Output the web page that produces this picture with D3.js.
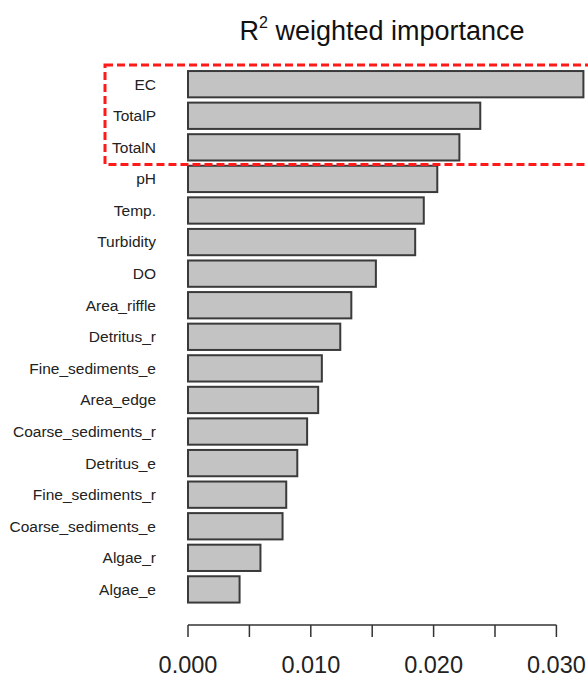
<!DOCTYPE html>
<html>
<head>
<meta charset="utf-8">
<script src="https://cdn.jsdelivr.net/npm/d3@7"></script>
<style>
  html, body { margin: 0; padding: 0; background: #fff; }
  svg { display: block; font-family: "Liberation Sans", Arial, sans-serif; }
</style>
</head>
<body>
<svg id="chart" width="588" height="682"></svg>
<script>
// Predictor names, top to bottom
const variables = [
  "EC", "TotalP", "TotalN", "pH", "Temp.", "Turbidity", "DO",
  "Area_riffle", "Detritus_r", "Fine_sediments_e", "Area_edge",
  "Coarse_sediments_r", "Detritus_e", "Fine_sediments_r",
  "Coarse_sediments_e", "Algae_r", "Algae_e"
];
// R² weighted importance of each predictor
const importance = [
  0.0322, 0.0238, 0.0221, 0.0203, 0.0192, 0.0185, 0.0153,
  0.0133, 0.0124, 0.0109, 0.0106,
  0.0097, 0.0089, 0.0080,
  0.0077, 0.0059, 0.0042
];
// Axis ticks and the subset that carries labels
const tickValues = [0, 0.005, 0.010, 0.015, 0.020, 0.025, 0.030];
const labelledTicks = [0, 0.010, 0.020, 0.030];
// Variables framed as the most important group
const highlighted = ["EC", "TotalP", "TotalN"];

const data = variables.map((v, i) => ({ name: v, value: importance[i] }));

const svg = d3.select("#chart");

const x = d3.scaleLinear().domain([0, 0.03]).range([188, 556.4]);
const y = d3.scaleBand()
  .domain(variables)
  .range([68.4, 605.2])
  .paddingInner(0.167)
  .paddingOuter(0.0835);

// Title with superscript
const title = svg.append("text")
  .attr("x", 382)
  .attr("y", 40)
  .attr("text-anchor", "middle")
  .attr("font-size", 27)
  .attr("fill", "#111");
title.append("tspan").text("R");
title.append("tspan").attr("dy", -12).attr("font-size", 16).text("2");
title.append("tspan").attr("dy", 12).text(" weighted importance");

// Bars
svg.append("g")
  .selectAll("rect")
  .data(data)
  .join("rect")
  .attr("x", x(0))
  .attr("y", d => y(d.name))
  .attr("width", d => x(d.value) - x(0))
  .attr("height", y.bandwidth())
  .attr("fill", "#c3c3c3")
  .attr("stroke", "#3a3a3a")
  .attr("stroke-width", 2);

// Category labels
svg.append("g")
  .selectAll("text")
  .data(data)
  .join("text")
  .attr("x", 156)
  .attr("y", d => y(d.name) + y.bandwidth() / 2)
  .attr("dy", "0.35em")
  .attr("text-anchor", "end")
  .attr("font-size", 15.5)
  .attr("fill", "#222")
  .text(d => d.name);

// Dashed frame around the top group
const frameTop = y(highlighted[0]) - 6;
const frameBottom = y(highlighted[highlighted.length - 1]) + y.bandwidth() + 4;
svg.append("rect")
  .attr("x", 105)
  .attr("y", frameTop)
  .attr("width", 520)
  .attr("height", frameBottom - frameTop)
  .attr("fill", "none")
  .attr("stroke", "#ff1a1a")
  .attr("stroke-width", 3)
  .attr("stroke-dasharray", "8,4");

// Bottom axis
const axisY = 625;
const axis = svg.append("g").attr("transform", `translate(0,${axisY})`);
axis.append("line")
  .attr("x1", x(0)).attr("x2", x(0.03))
  .attr("stroke", "#333").attr("stroke-width", 1.5);
axis.selectAll("line.tick")
  .data(tickValues)
  .join("line")
  .attr("class", "tick")
  .attr("x1", d => x(d)).attr("x2", d => x(d))
  .attr("y1", 0).attr("y2", 12)
  .attr("stroke", "#333").attr("stroke-width", 1.5);
axis.selectAll("text")
  .data(labelledTicks)
  .join("text")
  .attr("x", d => x(d))
  .attr("y", 48)
  .attr("text-anchor", "middle")
  .attr("font-size", 23.5)
  .attr("fill", "#222")
  .text(d => d3.format(".3f")(d));
</script>
</body>
</html>
